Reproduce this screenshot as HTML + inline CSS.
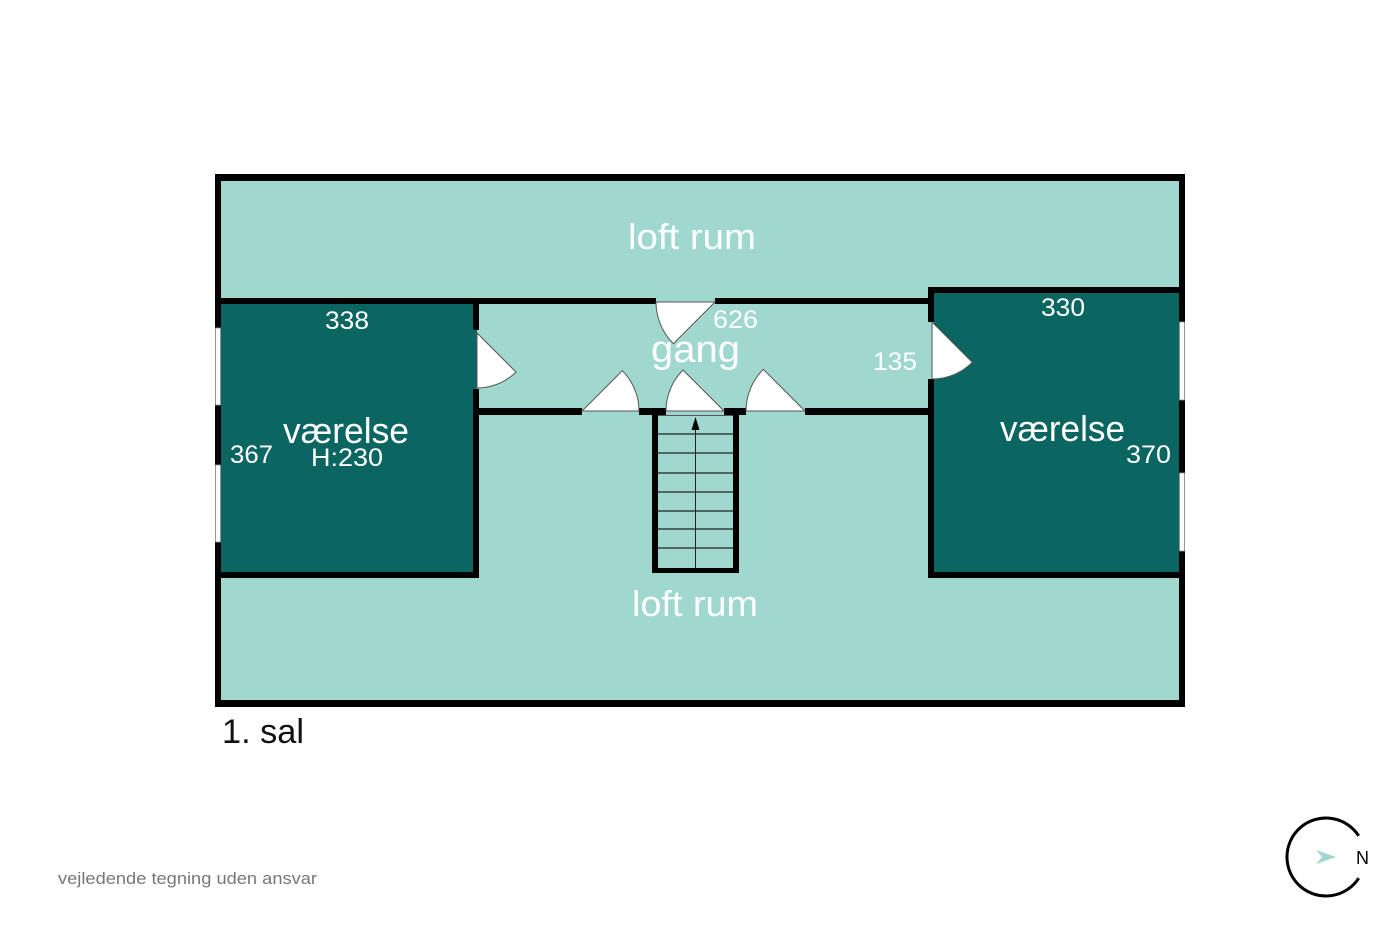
<!DOCTYPE html>
<html>
<head>
<meta charset="utf-8">
<style>
html,body{margin:0;padding:0;background:#fff;}
svg{display:block;}
text{font-family:"Liberation Sans",sans-serif;}
</style>
</head>
<body>
<svg width="1400" height="933" viewBox="0 0 1400 933" xmlns="http://www.w3.org/2000/svg">
  <rect x="0" y="0" width="1400" height="933" fill="#ffffff"/>

  <!-- light fill -->
  <rect x="215" y="174" width="970" height="533" fill="#a0d7cf"/>

  <!-- dark rooms -->
  <rect x="221" y="304" width="256" height="268" fill="#0b6561"/>
  <rect x="934" y="293" width="245" height="279" fill="#0b6561"/>

  <!-- outer walls -->
  <rect x="215" y="174" width="970" height="7" fill="#000"/>
  <rect x="215" y="700" width="970" height="7" fill="#000"/>
  <rect x="215" y="174" width="6" height="533" fill="#000"/>
  <rect x="1179" y="174" width="6" height="533" fill="#000"/>

  <!-- top partition (gang top wall) -->
  <rect x="215" y="298" width="441" height="6" fill="#000"/>
  <rect x="715" y="298" width="215" height="6" fill="#000"/>

  <!-- left room walls -->
  <rect x="473" y="298" width="6" height="32" fill="#000"/>
  <rect x="473" y="389" width="6" height="189" fill="#000"/>
  <rect x="215" y="572" width="264" height="6" fill="#000"/>

  <!-- right room walls -->
  <rect x="928" y="287" width="257" height="6" fill="#000"/>
  <rect x="928" y="287" width="6" height="35" fill="#000"/>
  <rect x="928" y="379" width="6" height="199" fill="#000"/>
  <rect x="928" y="572" width="257" height="6" fill="#000"/>

  <!-- gang bottom wall segments -->
  <rect x="479" y="408" width="103" height="7" fill="#000"/>
  <rect x="639" y="408" width="27" height="7" fill="#000"/>
  <rect x="724" y="408" width="22" height="7" fill="#000"/>
  <rect x="805" y="408" width="125" height="7" fill="#000"/>

  <!-- windows -->
  <g fill="#fff" stroke="#9a9a9a" stroke-width="0.8">
    <rect x="215.5" y="328" width="5" height="77"/>
    <rect x="215.5" y="465" width="5" height="77"/>
    <rect x="1179.5" y="322" width="5" height="78"/>
    <rect x="1179.5" y="473" width="5" height="78"/>
  </g>

  <!-- stair -->
  <rect x="652" y="410" width="6" height="163" fill="#000"/>
  <rect x="733" y="410" width="6" height="163" fill="#000"/>
  <rect x="652" y="568" width="87" height="5" fill="#000"/>
  <line x1="658" y1="415.5" x2="733" y2="415.5" stroke="#555" stroke-width="1"/>
  <g stroke="#222" stroke-width="1.2">
    <line x1="658" y1="434" x2="733" y2="434"/>
    <line x1="658" y1="453" x2="733" y2="453"/>
    <line x1="658" y1="473" x2="733" y2="473"/>
    <line x1="658" y1="492" x2="733" y2="492"/>
    <line x1="658" y1="511" x2="733" y2="511"/>
    <line x1="658" y1="529" x2="733" y2="529"/>
    <line x1="658" y1="548" x2="733" y2="548"/>
  </g>
  <line x1="695.5" y1="428" x2="695.5" y2="568" stroke="#222" stroke-width="1"/>
  <polygon points="695.5,417 691.5,430 699.5,430" fill="#000"/>

  <!-- doors -->
  <g fill="#fff" stroke="#555" stroke-width="1">
    <path d="M477,333 L516,372 A55,55 0 0 1 477,388 Z"/>
    <path d="M715,302 L673.3,343.7 A59,59 0 0 1 656,302 Z"/>
    <path d="M582,411 L622.3,370.7 A57,57 0 0 1 639,411 Z"/>
    <path d="M724,411 L683,370 A58,58 0 0 0 666,411 Z"/>
    <path d="M805,411 L763.3,369.3 A59,59 0 0 0 746,411 Z"/>
    <path d="M932,322 L972.3,362.3 A57,57 0 0 1 932,379 Z"/>
  </g>

  <!-- labels -->
  <g fill="#ffffff">
    <text x="628" y="249" font-size="36" textLength="128" lengthAdjust="spacingAndGlyphs">loft rum</text>
    <text x="632" y="616" font-size="36" textLength="126" lengthAdjust="spacingAndGlyphs">loft rum</text>
    <text x="651" y="362" font-size="38" textLength="89" lengthAdjust="spacingAndGlyphs">gang</text>
    <text x="713" y="328" font-size="25" textLength="45" lengthAdjust="spacingAndGlyphs">626</text>
    <text x="873" y="370" font-size="25" textLength="44" lengthAdjust="spacingAndGlyphs">135</text>
    <text x="325" y="329" font-size="25" textLength="44" lengthAdjust="spacingAndGlyphs">338</text>
    <text x="230" y="463" font-size="25" textLength="43" lengthAdjust="spacingAndGlyphs">367</text>
    <text x="283" y="443" font-size="36" textLength="126" lengthAdjust="spacingAndGlyphs">værelse</text>
    <text x="311" y="466" font-size="25" textLength="72" lengthAdjust="spacingAndGlyphs">H:230</text>
    <text x="1041" y="316" font-size="25" textLength="44" lengthAdjust="spacingAndGlyphs">330</text>
    <text x="1000" y="441" font-size="36" textLength="125" lengthAdjust="spacingAndGlyphs">værelse</text>
    <text x="1126" y="463" font-size="25" textLength="45" lengthAdjust="spacingAndGlyphs">370</text>
  </g>

  <text x="222" y="743" font-size="34" fill="#111" textLength="82" lengthAdjust="spacingAndGlyphs">1. sal</text>
  <text x="58" y="884" font-size="17" fill="#777" textLength="259" lengthAdjust="spacingAndGlyphs">vejledende tegning uden ansvar</text>

  <!-- compass -->
  <path d="M1358.7,878.2 A39,39 0 1 1 1358.7,835.8" fill="none" stroke="#000" stroke-width="3"/>
  <polygon points="1316,850 1336,857 1316,864 1322,857" fill="#9fd7cf"/>
  <text x="1356" y="864" font-size="18" fill="#000" textLength="13" lengthAdjust="spacingAndGlyphs">N</text>
</svg>
</body>
</html>
